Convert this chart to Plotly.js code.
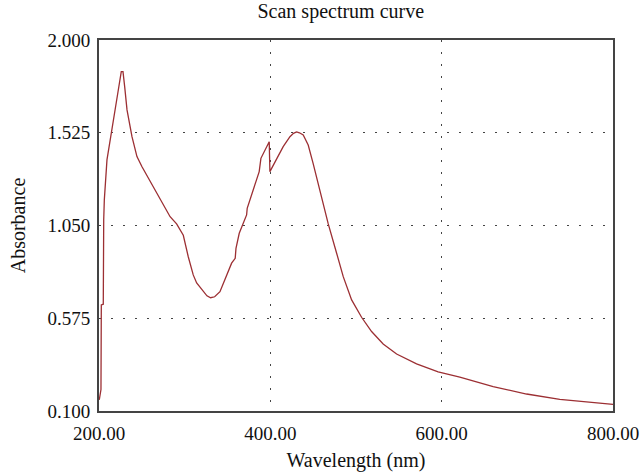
<!DOCTYPE html>
<html>
<head>
<meta charset="utf-8">
<script src="https://cdn.plot.ly/plotly-3.0.1.min.js"></script>
<style>html,body{margin:0;padding:0;background:#fff;}#chart{width:643px;height:474px;}</style>
</head>
<body>
<div id="chart"></div>
<script>
const wavelength = [200.3, 202.3, 202.7, 205.0, 205.5, 206.2, 209.3, 215.2, 222.2, 226.0, 228.0, 230.0, 232.7, 238.5, 244.3, 250.2, 261.8, 272.0, 283.0, 290.6, 298.4, 304.2, 310.0, 314.0, 321.7, 326.0, 330.3, 335.0, 341.2, 348.0, 354.8, 359.0, 359.9, 363.7, 372.3, 373.0, 387.0, 389.0, 398.7, 399.5, 407.0, 415.0, 422.9, 427.0, 430.7, 434.0, 438.4, 444.2, 450.0, 458.0, 462.0, 467.6, 477.4, 485.1, 494.9, 506.5, 518.2, 531.7, 547.4, 570.7, 595.9, 621.2, 660.1, 699.1, 737.9, 776.8, 800.0];
const absorbance = [0.157, 0.210, 0.643, 0.647, 1.078, 1.180, 1.386, 1.556, 1.735, 1.838, 1.838, 1.760, 1.642, 1.505, 1.403, 1.351, 1.258, 1.180, 1.095, 1.058, 1.000, 0.890, 0.797, 0.756, 0.711, 0.690, 0.680, 0.685, 0.711, 0.780, 0.857, 0.882, 0.933, 1.010, 1.104, 1.138, 1.326, 1.394, 1.479, 1.326, 1.390, 1.454, 1.505, 1.522, 1.529, 1.525, 1.514, 1.462, 1.367, 1.230, 1.165, 1.058, 0.908, 0.788, 0.669, 0.580, 0.507, 0.443, 0.392, 0.341, 0.300, 0.273, 0.225, 0.187, 0.160, 0.145, 0.134];
const xTickVals = [200, 400, 600, 800];
const xTickText = ["200.00", "400.00", "600.00", "800.00"];
const yTickVals = [0.1, 0.575, 1.05, 1.525, 2.0];
const yTickText = ["0.100", "0.575", "1.050", "1.525", "2.000"];

const serif = "Liberation Serif, DejaVu Serif, serif";
const trace = {
  x: wavelength, y: absorbance, type: "scatter", mode: "lines",
  line: {color: "#9c2f33", width: 1.3},
  hoverinfo: "skip"
};
const axisCommon = {
  showline: true, mirror: true, linecolor: "#444", linewidth: 2,
  showgrid: true, gridcolor: "#444", gridwidth: 1, griddash: "2px,10px",
  zeroline: false, ticks: "", tickfont: {family: serif, size: 19, color: "#111"},
  tickmode: "array", fixedrange: true
};
const layout = {
  width: 643, height: 474,
  margin: {l: 99, r: 30, t: 40, b: 63},
  paper_bgcolor: "#fff", plot_bgcolor: "#fff",
  showlegend: false,
  title: {text: "Scan spectrum curve", font: {family: serif, size: 20, color: "#111"}, x: 0.53, xanchor: "center", y: 0.992, yanchor: "top"},
  xaxis: Object.assign({}, axisCommon, {
    range: [200, 800], tickvals: xTickVals, ticktext: xTickText, ticklabelstandoff: 4,
    title: {text: "Wavelength (nm)", font: {family: serif, size: 20, color: "#111"}, standoff: 10}
  }),
  yaxis: Object.assign({}, axisCommon, {
    range: [0.1, 2.0], tickvals: yTickVals, ticktext: yTickText, ticklabelstandoff: 3,
    title: {text: "Absorbance", font: {family: serif, size: 20, color: "#111"}, standoff: 16}
  })
};
Plotly.newPlot("chart", [trace], layout, {displayModeBar: false, staticPlot: true});
</script>
</body>
</html>
